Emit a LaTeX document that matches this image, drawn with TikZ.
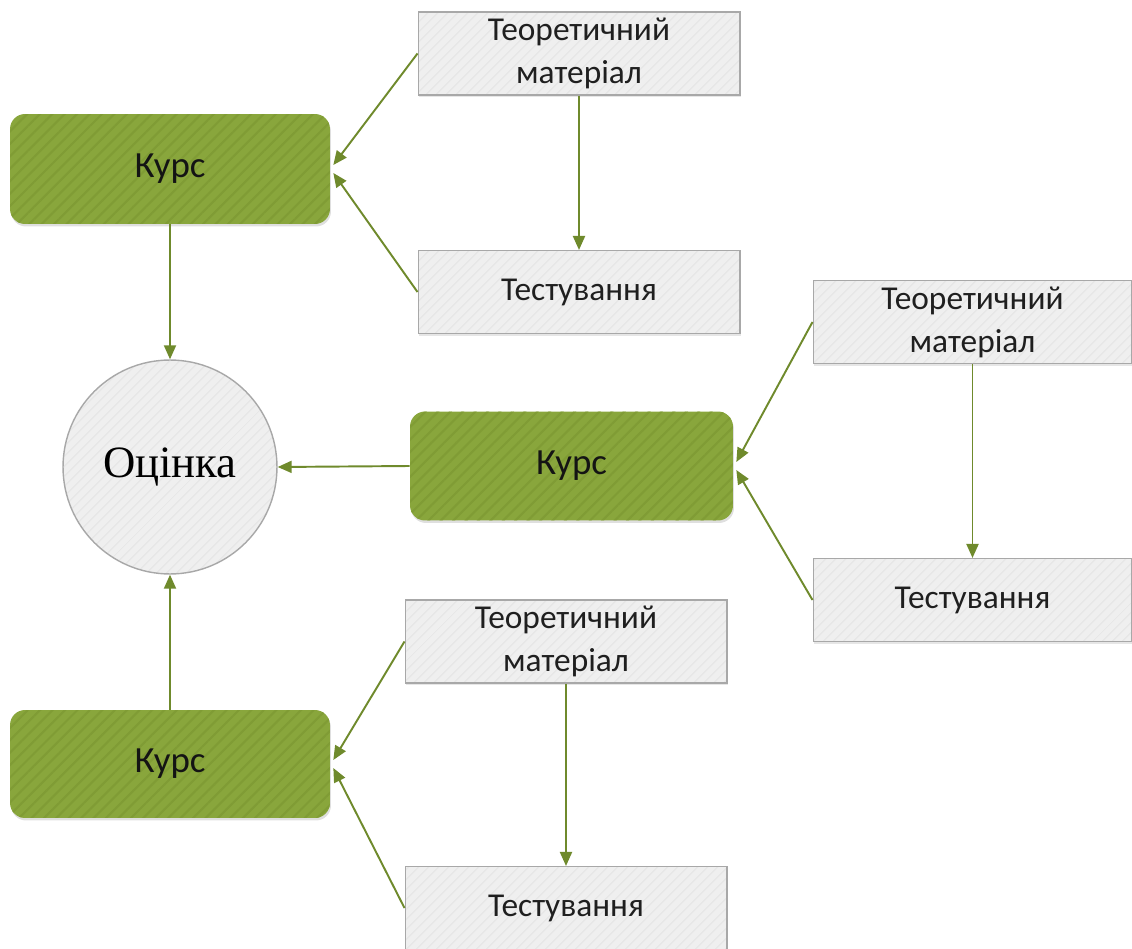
\documentclass[tikz,border=0pt]{standalone}
\usepackage{fontspec}
\setmainfont{Carlito}
\newfontfamily\timesf{Liberation Serif}
\usetikzlibrary{arrows.meta,patterns.meta,shadows,calc}
\definecolor{kgreen}{HTML}{89A63C}
\definecolor{kstripe}{HTML}{809C35}
\definecolor{karrow}{HTML}{6F8A2C}
\definecolor{kgray}{HTML}{EFEFEF}
\definecolor{kgstripe}{HTML}{E7E7E7}
\definecolor{kborder}{HTML}{A8A8A8}
\tikzset{
  coursebox/.style={rounded corners=0.3cm, minimum width=6.4cm, minimum height=2.2cm,
    drop shadow={shadow xshift=0.02cm, shadow yshift=-0.05cm, opacity=0.25},
    preaction={fill=kgreen},
    preaction={pattern={Lines[angle=45,distance=5pt,line width=1.2pt]}, pattern color=kstripe},
    font=\fontsize{21pt}{24pt}\selectfont, text=black!92},
  infobox/.style={draw=kborder, line width=0.6pt, minimum width=6.44cm, minimum height=1.66cm,
    drop shadow={shadow xshift=0.02cm, shadow yshift=-0.05cm, opacity=0.2},
    preaction={fill=kgray},
    preaction={pattern={Lines[angle=45,distance=4pt,line width=0.8pt]}, pattern color=kgstripe},
    font=\fontsize{19pt}{24.5pt}\selectfont, align=center, text=black!88},
  gradecircle/.style={circle, draw=kborder, line width=0.8pt, minimum size=4.28cm,
    preaction={fill=kgray},
    preaction={pattern={Lines[angle=45,distance=4pt,line width=0.8pt]}, pattern color=kgstripe},
    font=\timesf\fontsize{25.5pt}{30pt}\selectfont, text=black},
  link/.style={draw=karrow, line width=1.1pt, -{Triangle[length=0.28cm,width=0.24cm]}}
}
\begin{document}
\begin{tikzpicture}[x=0.02cm,y=-0.02cm]
\useasboundingbox (0,0) rectangle (1132,949);
% nodes
\node[coursebox] (C1) at (170,169) {Курс};
\node[infobox] (T1) at (579,53.5) {Теоретичний\\матеріал};
\node[infobox] (S1) at (579,292) {Тестування};
\node[gradecircle] (G) at (170,467) {Оцінка};
\node[coursebox, minimum width=6.46cm, minimum height=2.18cm] (C2) at (571.5,466) {Курс};
\node[infobox, minimum width=6.38cm] (T2) at (972.5,322) {Теоретичний\\матеріал};
\node[infobox, minimum width=6.38cm] (S2) at (972.5,600) {Тестування};
\node[infobox] (T3) at (566,641.5) {Теоретичний\\матеріал};
\node[coursebox, minimum height=2.16cm] (C3) at (170,764) {Курс};
\node[infobox] (S3) at (566,908) {Тестування};
% connectors
\draw[link] (T1.west) -- ($(C1.east)+(3,-4)$);
\draw[link] (S1.west) -- ($(C1.east)+(3,4)$);
\draw[link] (T1.south) -- (S1.north);
\draw[link] (C1.south) -- (G.north);
\draw[link] (C2.west) -- (G.east);
\draw[link] (C3.north) -- (G.south);
\draw[link] (T2.west) -- ($(C2.east)+(3,-4)$);
\draw[link] (S2.west) -- ($(C2.east)+(3,4)$);
\draw[link] (T2.south) -- (S2.north);
\draw[link] (T3.west) -- ($(C3.east)+(3,-4)$);
\draw[link] (S3.west) -- ($(C3.east)+(3,4)$);
\draw[link] (T3.south) -- (S3.north);
\end{tikzpicture}
\end{document}
